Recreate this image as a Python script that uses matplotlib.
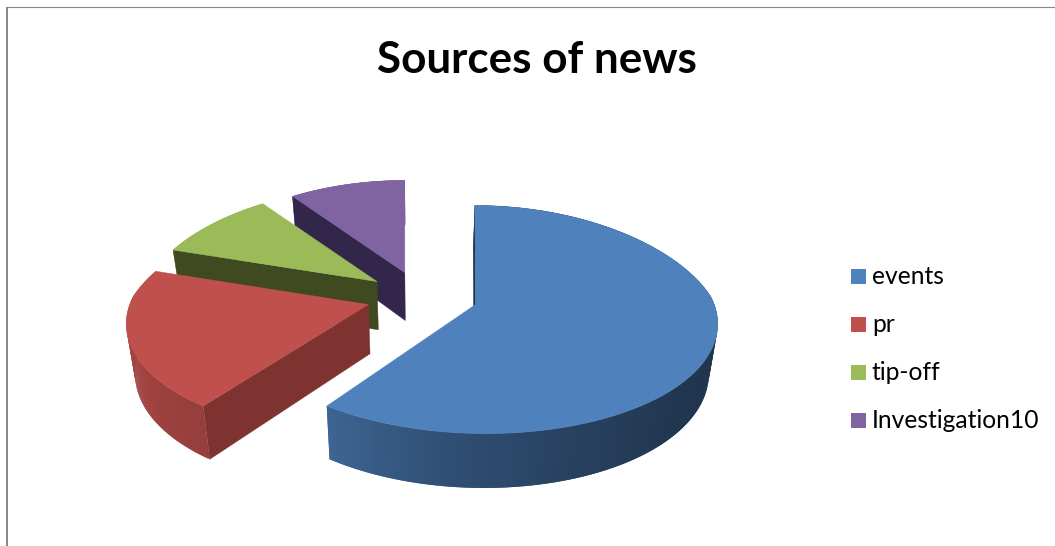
import numpy as np
import matplotlib
matplotlib.use("Agg")
import matplotlib.pyplot as plt
from matplotlib.patches import Polygon, Rectangle

# =========================
# Data
# =========================
labels = ["events", "pr", "tip-off", "Investigation10"]
values = [60, 20, 10, 10]
colors = ["#4F81BD", "#C0504D", "#9BBB59", "#8064A2"]
side_colors = ["#1D3350", "#7F3331", "#3F4A21", "#32264A"]

# =========================
# Projection settings (pixels)
# =========================
CX, CY = 422.0, 296.5
A, B = 236.5, 110.0
PERSP = 0.13
PERSP_BACK = 0.23
EXPLODE = 0.235
TIP_SPREAD = 1.3
DEPTH = 49.0


def x_scale(v):
    k = np.where(v < 0, PERSP_BACK, PERSP)
    return 1.0 / (1.0 - k * v)


def project(u0, v0, du, dv):
    # (u0, v0) is the slice tip, (du, dv) an offset from it; v points to the viewer
    v = v0 + dv
    s = 1.0 / (1.0 - PERSP * v)
    sx = x_scale(v)
    # near the viewer the exploded slices also spread further sideways
    spread = TIP_SPREAD * u0 * np.where(v > 0, sx - 1.0, 0.0)
    return CX + A * (u0 + du * sx + spread), CY + B * v * s


def drop(x, y):
    # lower edge of the pie body sits below and slightly inwards
    return 420 + 0.97 * (x - 420), y + DEPTH + 0.04 * (y - 300)


def rim_shade(theta):
    return np.interp(theta,
                     [90, 130, 160, 190, 216, 250, 290],
                     [0.40, 0.42, 0.50, 0.62, 0.78, 0.85, 0.85])


def shade(color, f):
    return tuple(np.array(matplotlib.colors.to_rgb(color)) * f)


def draw_rim(i, th, x, y, bx, by, keep):
    # overlapping quads so no seams show between them
    for k in range(len(th) - 1):
        mid_th = (th[k] + th[k + 1]) / 2
        if not keep(mid_th):
            continue
        e = min(k + 2, len(th) - 1)
        c = shade(colors[i], rim_shade(mid_th))
        ax.add_patch(Polygon([(x[k], y[k]), (x[e], y[e]), (bx[e], by[e]), (bx[k], by[k])],
                             closed=True, fc=c, ec="none"))


fig = plt.figure(figsize=(10.55, 5.46), dpi=100)
ax = fig.add_axes([0, 0, 1, 1])
ax.set_xlim(0, 1055)
ax.set_ylim(546, 0)
ax.axis("off")

# =========================
# Slice geometry from the values
# =========================
total = sum(values)
edges = np.cumsum([0] + values) / total * 360.0
slices = []
for i in range(len(values)):
    t0, t1 = edges[i], edges[i + 1]
    mid = np.radians((t0 + t1) / 2)
    u0, v0 = EXPLODE * np.sin(mid), -EXPLODE * np.cos(mid)
    th = np.linspace(t0, t1, 160)
    r = np.radians(th)
    x, y = project(u0, v0, np.sin(r), -np.cos(r))
    tx, ty = project(u0, v0, np.array(0.0), np.array(0.0))
    slices.append((i, float(tx), float(ty), th, x, y))

# back slices first so the front ones cover them
for i, tx, ty, th, x, y in reversed(slices):
    bx, by = drop(x, y)
    btx, bty = drop(tx, ty)

    # the part of the rim facing away goes under the cut faces
    draw_rim(i, th, x, y, bx, by, lambda t: not 90 <= t <= 270)

    # cut face on the leading edge of the slice
    ax.add_patch(Polygon([(tx, ty), (x[0], y[0]), (bx[0], by[0]), (btx, bty)],
                         closed=True, fc=side_colors[i], ec=side_colors[i], lw=0.3))

    draw_rim(i, th, x, y, bx, by, lambda t: 90 <= t <= 270)

    # top face
    top = [(tx, ty)] + list(zip(x, y))
    ax.add_patch(Polygon(top, closed=True, fc=colors[i], ec=colors[i], lw=0.3))

# =========================
# Title, legend, frame
# =========================
ax.text(536.5, 60, "Sources of news", family="Lato", fontweight="bold", fontsize=31.7,
        ha="center", va="center", color="black")

for i, name in enumerate(labels):
    y = 276.5 + 48 * i
    ax.add_patch(Rectangle((851, y - 7.5), 15, 15, fc=colors[i], ec="none"))
    ax.text(872, y, name, family="Lato", fontsize=17.7, ha="left", va="center", color="black")

ax.plot([7, 7], [546, 6.5], color="#868686", lw=1.4, solid_capstyle="butt")
ax.plot([6, 1055], [6.5, 6.5], color="#868686", lw=0.8, solid_capstyle="butt")

fig.savefig("out.png", dpi=100)
